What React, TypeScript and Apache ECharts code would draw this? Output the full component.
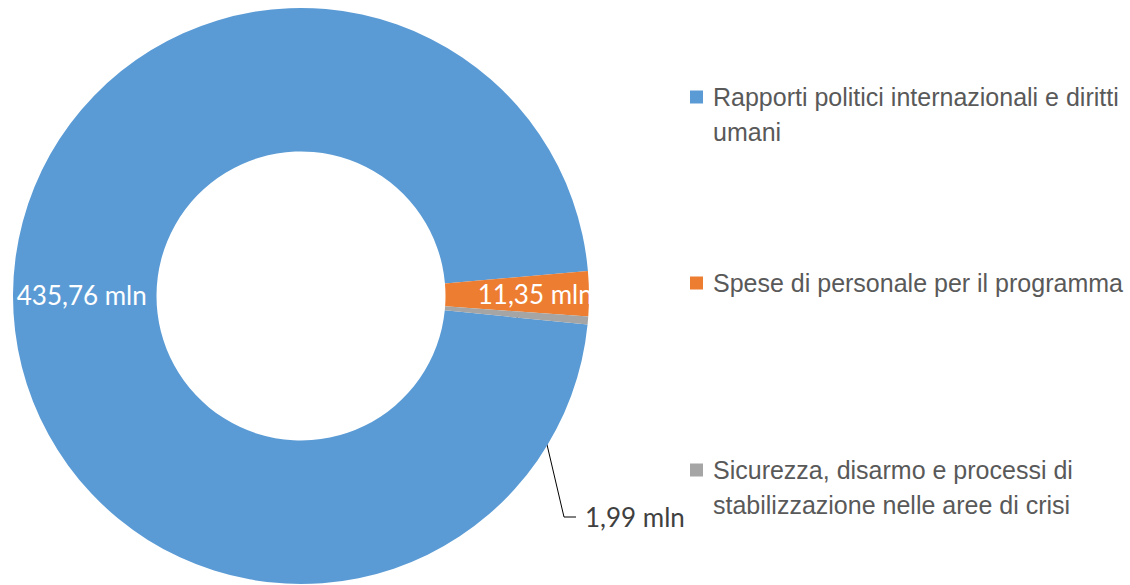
import React, { useEffect, useRef } from "react";
import * as echarts from "echarts";

const categories = [
  "Rapporti politici internazionali e diritti umani",
  "Spese di personale per il programma",
  "Sicurezza, disarmo e processi di stabilizzazione nelle aree di crisi",
];
const legendLines = [
  ["Rapporti politici internazionali e diritti", "umani"],
  ["Spese di personale per il programma"],
  ["Sicurezza, disarmo e processi di", "stabilizzazione nelle aree di crisi"],
];
const values = [435.76, 11.35, 1.99];
const colors = ["#5B9BD5", "#ED7D31", "#A5A5A5"];

const CX = 301;
const CY = 296;
const R_IN = 144.5;
const R_OUT = 288;
const START = -5.7;

const fmt = (v: number) => v.toFixed(2).replace(".", ",") + " mln";

export default function App() {
  const ref = useRef<HTMLDivElement>(null);
  useEffect(() => {
    if (!ref.current) return;
    const chart = echarts.init(ref.current, null, { renderer: "svg" });
    const total = values.reduce((a, b) => a + b, 0);
    const LH = 34.5;
    const legendFont = {
      fontFamily: "'Liberation Sans', Arial, sans-serif",
      fontSize: 25,
      color: "#595959",
      lineHeight: LH,
    };
    // icon centres (first text line) for each legend entry
    const iconCentres = [97, 283, 470];
    const option: any = {
      animation: false,
      backgroundColor: "#ffffff",
      legend: categories.map((name, i) => {
        const lines = legendLines[i];
        const multi = lines.length > 1;
        const nLines = multi ? 3 : 1;
        const body = lines.map((l) => `{t|${l}}`).join("\n");
        return {
          data: [name],
          orient: "vertical",
          left: 690,
          top: iconCentres[i] - (nLines * LH) / 2,
          padding: 0,
          icon: "rect",
          itemWidth: 13,
          itemHeight: 13,
          selectedMode: false,
          formatter: () => (multi ? "\n" + body : body),
          textStyle: {
            ...legendFont,
            rich: { t: { ...legendFont, padding: [0, 0, 0, 5] } },
          },
        };
      }),
      series: [
        {
          type: "pie",
          center: [CX, CY],
          radius: [R_IN, R_OUT],
          startAngle: START,
          clockwise: true,
          avoidLabelOverlap: false,
          silent: true,
          emphasis: { disabled: true },
          itemStyle: { borderWidth: 0 },
          label: {
            show: true,
            position: "inside",
            color: "#ffffff",
            fontFamily: "Lato, 'Noto Sans', sans-serif",
            fontSize: 26,
            formatter: (p: any) => fmt(p.value),
          },
          labelLine: { show: false },
          labelLayout: (p: any) => {
            if (p.dataIndex === 1) return { dx: 15 };
            if (p.dataIndex === 2) {
              const before = values[0] + values[1] + values[2] / 2;
              const mid = ((START - (360 * before) / total) * Math.PI) / 180;
              const rMid = (R_IN + R_OUT) / 2;
              const sx = CX + rMid * Math.cos(mid);
              const sy = CY - rMid * Math.sin(mid);
              return {
                x: 585,
                y: 517,
                align: "left",
                verticalAlign: "middle",
                labelLinePoints: [
                  [sx, sy],
                  [564, 517],
                  [576, 517],
                ],
              };
            }
            return {};
          },
          data: categories.map((name, i) => {
            const d: any = {
              name,
              value: values[i],
              itemStyle: { color: colors[i] },
            };
            if (i === 2) {
              d.label = { position: "outside", color: "#404040" };
              d.labelLine = {
                show: true,
                length: 10,
                length2: 10,
                lineStyle: { color: "#000000", width: 1 },
              };
            }
            return d;
          }),
        },
      ],
    };
    chart.setOption(option);
    return () => chart.dispose();
  }, []);
  return (
    <div
      ref={ref}
      style={{ position: "fixed", left: 0, top: 0, width: 1130, height: 585, background: "#fff" }}
    />
  );
}
